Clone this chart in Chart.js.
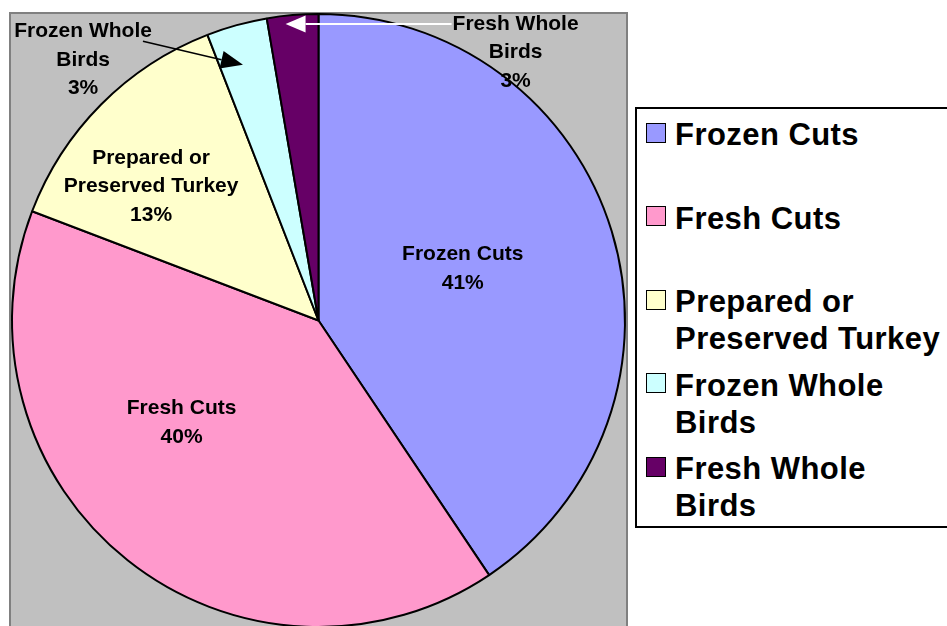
<!DOCTYPE html>
<html><head><meta charset="utf-8">
<script src="https://cdn.jsdelivr.net/npm/chart.js@4/dist/chart.umd.min.js"></script>
<style>
html,body{margin:0;padding:0;background:#fff;overflow:hidden;}
#wrap{position:relative;width:947px;height:626px;overflow:hidden;}
#c{position:absolute;left:0;top:0;}
#legend{position:absolute;left:635px;top:107px;width:340px;height:417px;border:2px solid #000;background:#fff;font:bold 31px "Liberation Sans",Arial,sans-serif;letter-spacing:0.45px;color:#000;}
.item{position:absolute;left:0;width:330px;height:83px;}
.sw{position:absolute;left:9px;top:6.5px;width:18px;height:18px;border:1.7px solid #000;box-sizing:content-box;}
.tx{position:absolute;left:38px;top:0;width:272px;line-height:37px;}
</style></head>
<body>
<div id="wrap">
<canvas id="c" width="947" height="640"></canvas>
<div id="legend"></div>
</div>
<script>
// ---- data ----
const categories = ['Frozen Cuts', 'Fresh Cuts', 'Prepared or Preserved Turkey', 'Frozen Whole Birds', 'Fresh Whole Birds'];
const shares = [40.6, 40.2, 13.3, 3.2, 2.7];
const sliceColors = ['#9999FF', '#FF99CC', '#FFFFCC', '#CCFFFF', '#660066'];

// label layout: radius fraction of pie radius, angle offset (deg) from slice middle
const labelRadius = [0.50, 0.557, 0.70, 1.146, 1.085];
const labelAngleOffset = [-2.8, 14.8, -6.1, -26.6, 41.2];

const FONT = '"Liberation Sans", Arial, sans-serif';

// legend (HTML)
const legend = document.getElementById('legend');
categories.forEach((name, i) => {
  const it = document.createElement('div');
  it.className = 'item';
  it.style.top = (7 + 83.5 * i) + 'px';
  const sw = document.createElement('div');
  sw.className = 'sw';
  sw.style.background = sliceColors[i];
  const tx = document.createElement('div');
  tx.className = 'tx';
  tx.textContent = name;
  it.appendChild(sw); it.appendChild(tx);
  legend.appendChild(it);
});

function wrap(ctx, text, maxW) {
  const words = text.split(' ');
  const lines = [];
  let cur = '';
  words.forEach(w => {
    const t = cur ? cur + ' ' + w : w;
    if (cur && ctx.measureText(t).width > maxW) { lines.push(cur); cur = w; }
    else cur = t;
  });
  if (cur) lines.push(cur);
  return lines;
}

function arrow(ctx, x1, y1, x2, y2, color, lw, headLen, headHalf) {
  const ang = Math.atan2(y2 - y1, x2 - x1);
  const bx = x2 - headLen * Math.cos(ang), by = y2 - headLen * Math.sin(ang);
  ctx.save();
  ctx.strokeStyle = color; ctx.fillStyle = color; ctx.lineWidth = lw;
  ctx.beginPath(); ctx.moveTo(x1, y1); ctx.lineTo(bx, by); ctx.stroke();
  ctx.beginPath();
  ctx.moveTo(x2, y2);
  ctx.lineTo(bx + headHalf * Math.sin(ang), by - headHalf * Math.cos(ang));
  ctx.lineTo(bx - headHalf * Math.sin(ang), by + headHalf * Math.cos(ang));
  ctx.closePath(); ctx.fill();
  ctx.restore();
}

const plotBg = {
  id: 'plotBg',
  beforeDraw(chart) {
    const {ctx, chartArea: a} = chart;
    ctx.save();
    ctx.fillStyle = '#C0C0C0';
    ctx.fillRect(a.left, a.top, a.right - a.left, chart.height - a.top + 10);
    ctx.strokeStyle = '#808080';
    ctx.lineWidth = 2;
    ctx.strokeRect(a.left, a.top, a.right - a.left, chart.height - a.top + 10);
    ctx.restore();
  }
};

const sliceLabels = {
  id: 'sliceLabels',
  afterDatasetsDraw(chart) {
    const ctx = chart.ctx;
    const meta = chart.getDatasetMeta(0);
    const vals = chart.data.datasets[0].data;
    const total = vals.reduce((s, v) => s + v, 0);
    ctx.save();
    ctx.font = 'bold 21px ' + FONT;
    ctx.fillStyle = '#000';
    ctx.textAlign = 'center';
    ctx.textBaseline = 'middle';
    const lh = 28.5;
    meta.data.forEach((arc, i) => {
      const p = arc.getProps(['x', 'y', 'startAngle', 'endAngle', 'outerRadius'], true);
      const midA = (p.startAngle + p.endAngle) / 2;
      const a = midA + labelAngleOffset[i] * Math.PI / 180;
      const r = p.outerRadius * labelRadius[i];
      const cx = p.x + r * Math.cos(a), cy = p.y + r * Math.sin(a);
      const lines = wrap(ctx, chart.data.labels[i], 180);
      lines.push(Math.round(vals[i] / total * 100) + '%');
      const y0 = cy - (lines.length - 1) * lh / 2;
      // leader arrows for the small outside slices
      if (i === 3) {
        const w = ctx.measureText(lines[0]).width;
        const tr = p.outerRadius * 0.87;
        arrow(ctx, cx + w / 2 - 9, y0 + 10, p.x + tr * Math.cos(midA - 0.017), p.y + tr * Math.sin(midA - 0.017), '#000', 1.5, 22, 9);
      }
      if (i === 4) {
        const w = ctx.measureText(lines[0]).width;
        const tr = p.outerRadius * 0.97;
        const ta = midA - 1.5 * Math.PI / 180;
        const tx = p.x + tr * Math.cos(ta);
        arrow(ctx, cx - w / 2 - 1, y0, tx, y0, '#FFFFFF', 2, 20, 8.5);
      }
      ctx.fillStyle = '#000';
      lines.forEach((t, k) => ctx.fillText(t, cx, y0 + k * lh));
    });
    ctx.restore();
  }
};

new Chart(document.getElementById('c'), {
  type: 'pie',
  data: {
    labels: categories,
    datasets: [{
      data: shares,
      backgroundColor: sliceColors,
      borderColor: '#000',
      borderWidth: 2,
      borderAlign: 'center'
    }]
  },
  options: {
    responsive: false,
    animation: false,
    devicePixelRatio: 1,
    layout: {padding: {left: 10, top: 13, right: 320, bottom: 12}},
    plugins: {legend: {display: false}, tooltip: {enabled: false}}
  },
  plugins: [plotBg, sliceLabels]
});
</script>
</body></html>
